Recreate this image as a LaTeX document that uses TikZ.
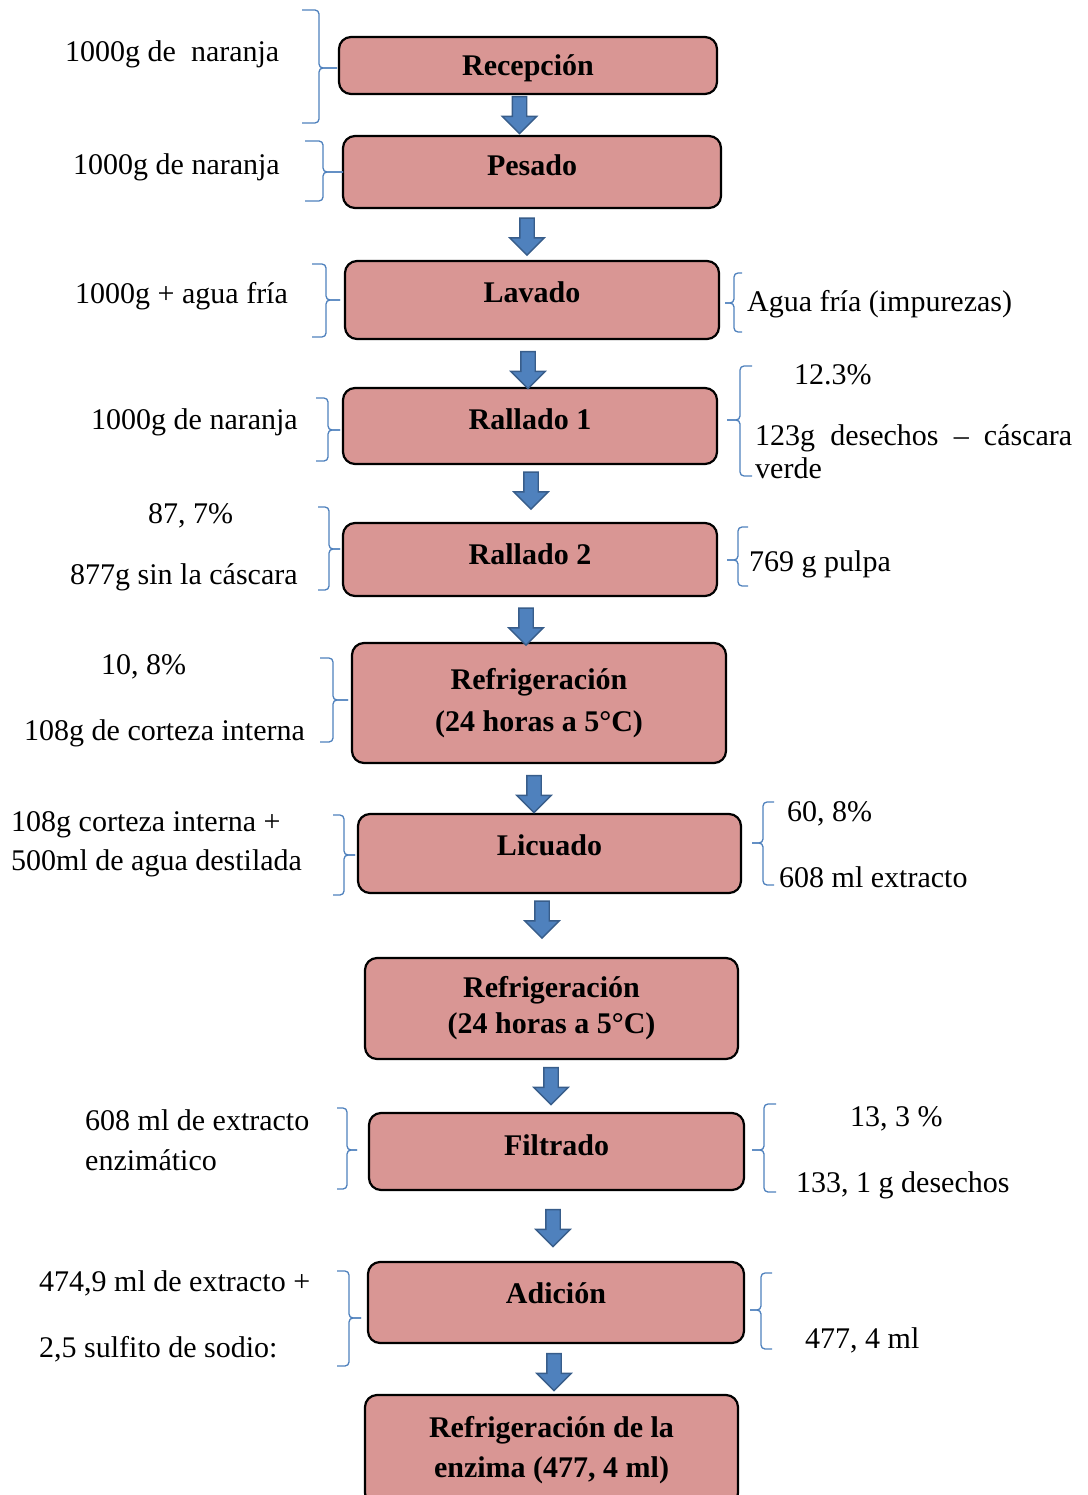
\documentclass[tikz,border=0pt]{standalone}
\usepackage{fontspec}
\setmainfont{Liberation Serif}
\usetikzlibrary{shapes.arrows}

\definecolor{boxfill}{HTML}{D99694}
\definecolor{arrfill}{HTML}{4F81BD}
\definecolor{arrline}{HTML}{385D8A}
\definecolor{brcline}{HTML}{4F81BD}

\tikzset{
  every node/.style={font=\fontsize{30}{36}\selectfont, inner sep=0pt},
  stage/.style={draw=black, line width=2.2pt, fill=boxfill, rounded corners=12pt,
    font=\fontsize{30}{36}\selectfont\bfseries, align=center},
  oneline/.style={stage, text height=20pt, text depth=#1},
  flowarrow/.style={single arrow, draw=arrline, fill=arrfill, line width=1.4pt,
    shape border rotate=270, inner sep=6.5pt, minimum height=37pt,
    single arrow head extend=10pt, single arrow tip angle=90},
  note/.style={anchor=base west},
  brc/.style={draw=brcline, line width=1.3pt, rounded corners=4pt},
}

% curly bracket: outer end x, spine x, tip x, top y, tip y, bottom y
\newcommand{\bracket}[6]{%
  \draw[brc] (#1,#4) -- (#2,#4) -- (#2,#5) -- (#3,#5);
  \draw[brc] (#3,#5) -- (#2,#5) -- (#2,#6) -- (#1,#6);}

\begin{document}
\begin{tikzpicture}[x=1pt, y=-1pt]
\useasboundingbox (0,0) rectangle (1087,1495);
\clip (0,0) rectangle (1087,1495);

% process stages
\node[oneline=0pt, minimum width=378pt, minimum height=57pt] (b1) at (528,65.5) {Recepción};
\node[oneline=12pt, minimum width=378pt, minimum height=72pt] (b2) at (532,172) {Pesado};
\node[oneline=16pt, minimum width=374pt, minimum height=78pt] (b3) at (532,300) {Lavado};
\node[oneline=14pt, minimum width=374pt, minimum height=76pt] (b4) at (530,426) {Rallado 1};
\node[oneline=11pt, minimum width=374pt, minimum height=73pt] (b5) at (530,559.5) {Rallado 2};
\node[stage, minimum width=374pt, minimum height=120pt] (b6) at (539,703) {Refrigeración\\[6pt](24 horas a 5°C)};
\node[oneline=17pt, minimum width=383pt, minimum height=79pt] (b7) at (549.5,853.5) {Licuado};
\node[stage, minimum width=373pt, minimum height=101pt] (b8) at (551.5,1008.5) {Refrigeración\\(24 horas a 5°C)};
\node[oneline=13pt, minimum width=375pt, minimum height=77pt] (b9) at (556.5,1151.5) {Filtrado};
\node[oneline=19pt, minimum width=376pt, minimum height=81pt] (b10) at (556,1302.5) {Adición};
\node[stage, minimum width=373pt, minimum height=110pt] (b11) at (551.5,1450) {Refrigeración de la\\[4pt]enzima (477, 4 ml)};

% block arrows between stages
\node[flowarrow] (a1) at (519.5,111.5) {};
\node[flowarrow] (a2) at (527,233) {};
\node[flowarrow] (a3) at (528,366.5) {};
\node[flowarrow] (a4) at (531,487) {};
\node[flowarrow] (a5) at (526,623) {};
\node[flowarrow] (a6) at (534,790.5) {};
\node[flowarrow] (a7) at (542,916) {};
\node[flowarrow] (a8) at (551,1082.5) {};
\node[flowarrow] (a9) at (553,1224.5) {};
\node[flowarrow] (a10) at (554,1368.5) {};

% inputs (left)
\bracket{302}{319}{337}{10}{68}{123}
\bracket{305}{323}{343}{141}{172}{201}
\bracket{312}{326}{340}{264}{300}{337}
\bracket{316}{328}{340}{398}{430}{461}
\bracket{318}{329}{340}{507}{549}{590}
\bracket{320}{333}{348}{658}{700}{742}
\bracket{333}{344}{355}{815}{855}{895}
\bracket{337}{347}{357}{1108}{1150}{1189}
\bracket{337}{349}{361}{1271}{1318}{1366}

% outputs (right)
\bracket{742}{734}{725}{273}{303}{332}
\bracket{752}{740}{727}{366}{420}{476}
\bracket{748}{738}{727}{527}{560}{586}
\bracket{774}{763}{752}{802}{843}{885}
\bracket{776}{764}{752}{1104}{1150}{1192}
\bracket{772}{761}{750}{1273}{1310}{1349}

% left-hand notes
\node[note] (l1) at (65,62) {1000g de\ \ naranja};
\node[note] (l2) at (73,175) {1000g de naranja};
\node[note] (l3) at (75,304) {1000g + agua fría};
\node[note] (l4) at (91,429) {1000g de naranja};
\node[note] (l5a) at (148,523) {87, 7\%};
\node[note] (l5b) at (70,584) {877g sin la cáscara};
\node[note] (l6a) at (101,674) {10, 8\%};
\node[note] (l6b) at (24,740) {108g de corteza interna};
\node[note] (l7a) at (11,831) {108g corteza interna +};
\node[note] (l7b) at (11,870) {500ml de agua destilada};
\node[note] (l9a) at (85,1130) {608 ml de extracto};
\node[note] (l9b) at (85,1170) {enzimático};
\node[note] (l10a) at (39,1291) {474,9 ml de extracto +};
\node[note] (l10b) at (39,1357) {2,5 sulfito de sodio:};

% right-hand notes
\node[note] (r3) at (747,312) {Agua fría (impurezas)};
\node[note] (r4a) at (794,384) {12.3\%};
\node[note] (r4b) at (755,445) {\hbox to 317pt{123g\hfill desechos\hfill –\hfill cáscara}};
\node[note] (r4c) at (755,478) {verde};
\node[note] (r5) at (749,571) {769 g pulpa};
\node[note] (r7a) at (787,821) {60, 8\%};
\node[note] (r7b) at (779,887) {608 ml extracto};
\node[note] (r9a) at (850,1126) {13, 3 \%};
\node[note] (r9b) at (796,1192) {133, 1 g desechos};
\node[note] (r10) at (805,1348) {477, 4 ml};
\end{tikzpicture}
\end{document}
